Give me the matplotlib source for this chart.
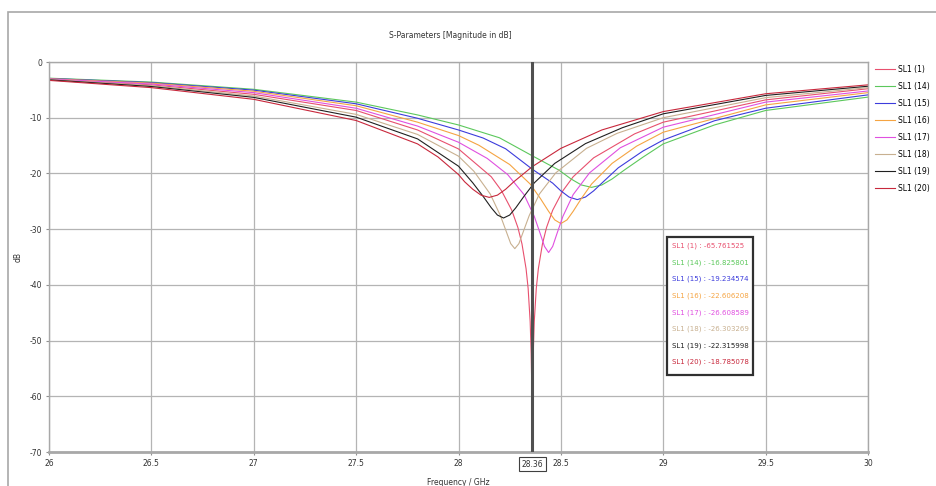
import matplotlib
matplotlib.use("Agg")
import matplotlib.pyplot as plt
from matplotlib.patches import Rectangle

plt.rcParams["axes.unicode_minus"] = False

# curve names and colours as in the legend
names = ["SL1 (1)", "SL1 (14)", "SL1 (15)", "SL1 (16)", "SL1 (17)", "SL1 (18)", "SL1 (19)", "SL1 (20)"]
colors = ["#e8506e", "#5cc85c", "#3c3cdc", "#f5a442", "#e050e0", "#c8b090", "#202020", "#c8283c"]

# values (GHz, dB)
freq_1 = [26.0, 26.5, 27.0, 27.5, 27.8, 28.0, 28.16, 28.21, 28.26, 28.29, 28.31, 28.33, 28.34, 28.35,
          28.355, 28.357, 28.3585, 28.36, 28.3615, 28.363, 28.365, 28.37, 28.38, 28.39, 28.41, 28.43,
          28.46, 28.51, 28.56, 28.66, 28.86, 29.0, 29.5, 30.0]
db_1 = [-3.1, -4.1, -5.8, -8.7, -12.2, -15.6, -20.6, -23.1, -26.6, -29.7, -32.65, -37.1, -40.6, -46.6,
        -52.4, -56.5, -61.2, -65.76, -61.2, -56.5, -52.4, -46.6, -40.6, -37.1, -32.65, -29.7,
        -26.6, -23.1, -20.6, -17.2, -12.9, -10.8, -6.8, -4.8]

freq_14 = [26.0, 26.5, 27.0, 27.5, 27.8, 28.0, 28.2, 28.36, 28.49, 28.55, 28.6, 28.65, 28.7, 28.75,
           28.81, 28.9, 29.0, 29.25, 29.5, 30.0]
db_14 = [-2.9, -3.6, -4.9, -7.2, -9.5, -11.3, -13.6, -16.83, -19.39, -21.0, -22.07, -22.5, -22.07, -21.0,
         -19.39, -17.1, -14.7, -11.3, -8.7, -6.3]

freq_15 = [26.0, 26.5, 27.0, 27.5, 27.8, 28.0, 28.12, 28.23, 28.36, 28.46, 28.5, 28.54, 28.58, 28.62,
           28.66, 28.7, 28.78, 28.9, 29.0, 29.25, 29.5, 30.0]
db_15 = [-2.95, -3.7, -5.05, -7.5, -10.1, -12.2, -13.64, -15.57, -19.23, -21.74, -23.13, -24.24, -24.7, -24.24,
         -23.13, -21.74, -19.0, -16.0, -14.0, -10.55, -8.3, -5.9]

freq_16 = [26.0, 26.5, 27.0, 27.5, 27.8, 28.0, 28.1, 28.25, 28.35, 28.4, 28.44, 28.47, 28.5, 28.53,
           28.56, 28.6, 28.65, 28.75, 28.87, 29.0, 29.5, 30.0]
db_16 = [-3.0, -3.8, -5.25, -7.85, -10.8, -13.2, -14.95, -18.4, -21.9, -24.5, -26.8, -28.34, -29.0, -28.34,
         -26.8, -24.5, -21.9, -18.2, -15.1, -12.6, -7.7, -5.5]

freq_17 = [26.0, 26.5, 27.0, 27.5, 27.8, 28.0, 28.14, 28.24, 28.32, 28.37, 28.4, 28.42, 28.44, 28.46,
           28.48, 28.51, 28.56, 28.64, 28.79, 29.0, 29.5, 30.0]
db_17 = [-3.05, -3.95, -5.5, -8.3, -11.5, -14.4, -17.3, -20.2, -23.8, -27.7, -30.9, -33.1, -34.2, -33.1,
         -30.9, -27.7, -23.8, -19.9, -15.4, -11.7, -7.2, -5.2]

freq_18 = [26.0, 26.5, 27.0, 27.5, 27.8, 28.0, 28.075, 28.155, 28.205, 28.235, 28.255, 28.275, 28.295,
           28.315, 28.345, 28.395, 28.475, 28.625, 28.775, 29.0, 29.5, 30.0]
db_18 = [-3.15, -4.25, -6.1, -9.4, -13.0, -16.9, -19.6, -23.7, -27.6, -30.6, -32.6, -33.5, -32.6,
         -30.6, -27.6, -23.7, -19.9, -15.5, -12.8, -10.0, -6.4, -4.6]

freq_19 = [26.0, 26.5, 27.0, 27.5, 27.8, 28.0, 28.07, 28.12, 28.16, 28.19, 28.22, 28.25, 28.28, 28.32,
           28.37, 28.47, 28.62, 28.8, 29.0, 29.5, 30.0]
db_19 = [-3.2, -4.4, -6.35, -9.9, -13.8, -18.7, -21.7, -24.1, -26.16, -27.47, -28.0, -27.47, -26.16, -24.1,
         -21.7, -18.2, -14.65, -11.8, -9.3, -6.0, -4.35]

freq_20 = [26.0, 26.5, 27.0, 27.5, 27.8, 27.9, 28.0, 28.03, 28.07, 28.11, 28.15, 28.19, 28.23, 28.27,
           28.36, 28.5, 28.7, 29.0, 29.5, 30.0]
db_20 = [-3.3, -4.6, -6.7, -10.5, -14.7, -17.05, -20.2, -21.5, -22.85, -23.9, -24.3, -23.9, -22.85, -21.5,
         -18.79, -15.5, -12.2, -8.9, -5.7, -4.1]

freqs = [freq_1, freq_14, freq_15, freq_16, freq_17, freq_18, freq_19, freq_20]
dbs = [db_1, db_14, db_15, db_16, db_17, db_18, db_19, db_20]

marker_freq = 28.36
marker_values = [-65.761525, -16.825801, -19.234574, -22.606208, -26.608589, -26.303269, -22.315998, -18.785078]

x_ticks = [26, 26.5, 27, 27.5, 28, 28.5, 29, 29.5, 30]
x_tick_labels = ["26", "26.5", "27", "27.5", "28", "28.5", "29", "29.5", "30"]
y_ticks = [0, -10, -20, -30, -40, -50, -60, -70]

W, H = 937, 486
fs = 5.5
fig = plt.figure(figsize=(W / 100, H / 100), dpi=100)
ax = fig.add_axes([49 / W, 1 - 452 / H, (868 - 49) / W, (452 - 62) / H])

for f, d, c, n in zip(freqs, dbs, colors, names):
    ax.plot(f, d, color=c, lw=0.8, label=n)

ax.axvline(marker_freq, color="#505050", lw=2.2, zorder=5)

ax.set_xlim(26, 30)
ax.set_ylim(-70, 0)
ax.set_xticks(x_ticks)
ax.set_xticklabels(x_tick_labels)
ax.set_yticks(y_ticks)
ax.grid(True, color="#b4b4b4", lw=0.9)
ax.tick_params(labelsize=fs, length=2, width=0.8, color="#909090", pad=3, labelcolor="#333333")
for side, sp in ax.spines.items():
    sp.set_color("#a8a8a8")
    sp.set_linewidth(1.0)
ax.spines["bottom"].set_linewidth(2.0)

ax.text(marker_freq, -0.02, "28.36", transform=ax.get_xaxis_transform(), ha="center", va="top",
        fontsize=fs, color="#333333",
        bbox=dict(boxstyle="square,pad=0.35", fc="white", ec="#404040", lw=0.8))

fig.text(450 / W, 1 - 35 / H, "S-Parameters [Magnitude in dB]", ha="center", va="center",
         fontsize=fs, color="#333333")
fig.text(458 / W, 1 - 482 / H, "Frequency / GHz", ha="center", va="center", fontsize=fs, color="#333333")
fig.text(18 / W, 1 - 257 / H, "dB", rotation=90, ha="center", va="center", fontsize=fs, color="#333333")

# outer window frame
fig.add_artist(Rectangle((8 / W, -0.1), 1.2, (H - 12) / H + 0.1, transform=fig.transFigure,
                         fill=False, ec="#a8a8a8", lw=1.2))

# legend outside on the right
fig.legend(loc="upper left", bbox_to_anchor=(875 / W, 1 - 65 / H), frameon=False, fontsize=fs,
           handlelength=2.6, handletextpad=0.4, labelspacing=1.05, borderaxespad=0, borderpad=0)

# marker value box
bx0, bx1, by0, by1 = 667, 753, 237, 375
fig.add_artist(Rectangle((bx0 / W, 1 - by1 / H), (bx1 - bx0) / W, (by1 - by0) / H,
                         transform=fig.transFigure, fc="white", ec="#303030", lw=1.6, zorder=6))
for i, (n, v, c) in enumerate(zip(names, marker_values, colors)):
    fig.text((bx0 + 5) / W, 1 - (by0 + 9 + i * 16.6) / H, f"{n} : {v:.6f}", ha="left", va="center",
             fontsize=5, color=c, zorder=7)

fig.savefig("out.png", dpi=100)
